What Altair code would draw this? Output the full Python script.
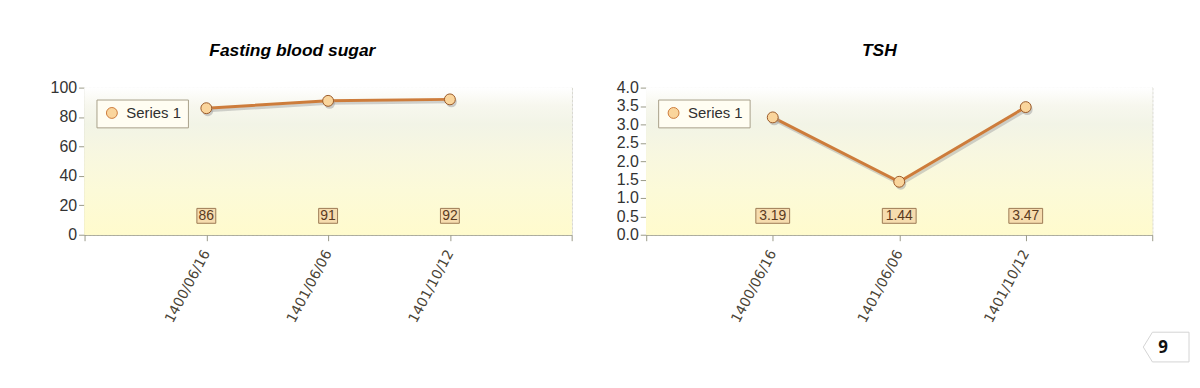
import altair as alt
import pandas as pd

dates = ["1400/06/16", "1401/06/06", "1401/10/12"]
sugar_values = [86, 91, 92]
tsh_values = [3.19, 1.44, 3.47]
series_name = "Series 1"
titles = ["Fasting blood sugar", "TSH"]
page_number = ["9"]

LINE = "#CD7C3B"
PT_FILL = "#FAD59C"
PT_STROKE = "#9A5A28"
BOX_FILL = "#F6DCAE"
BOX_STROKE = "#9C7A55"
FRAME = "#9A9A88"
GRID = "#D2D2C4"

label_expr = "[" + ",".join(["''"] + ["'%s'" % d for d in dates] + ["''"]) + "][datum.value]"


def panel(values, title, width, ymax, ystep, yfmt, box_w, title_dx, extra=None):
    df = pd.DataFrame({
        "idx": list(range(1, len(dates) + 1)),
        "date": dates,
        "value": values,
        "series": [series_name] * len(dates),
        "label": [("%g" % v) if yfmt == "d" else ("%.2f" % v) for v in values],
    })
    height = 148
    yticks = [round(i * ystep, 2) for i in range(int(round(ymax / ystep)) + 1)]
    base = alt.Chart(df)

    bg = base.mark_rect(
        color=alt.Gradient(
            gradient="linear",
            stops=[
                alt.GradientStop(color="#FFFFFF", offset=0),
                alt.GradientStop(color="#F7F7EE", offset=0.12),
                alt.GradientStop(color="#F2F4E6", offset=0.25),
                alt.GradientStop(color="#F8F7E0", offset=0.45),
                alt.GradientStop(color="#FCFAD8", offset=0.7),
                alt.GradientStop(color="#FFFBCD", offset=1),
            ],
            x1=0, x2=0, y1=0, y2=1,
        )
    ).encode(x=alt.value(0), x2=alt.value(width), y=alt.value(0), y2=alt.value(height))

    xs = alt.X("idx:Q", scale=alt.Scale(domain=[0, 4], nice=False, zero=False),
               axis=alt.Axis(values=[0, 1, 2, 3, 4], labelExpr=label_expr, title=None,
                             labelAngle=-62, labelFont="DejaVu Sans", labelFontSize=14,
                             labelColor="#4A4436", tickSize=6, tickColor=FRAME,
                             domainColor=FRAME, grid=True, gridColor=GRID, gridDash=[2, 2],
                             labelPadding=10, labelOverlap=False))
    ys = alt.Y("value:Q", scale=alt.Scale(domain=[0, ymax], nice=False),
               axis=alt.Axis(values=yticks, format=".0f" if yfmt == "d" else ".1f", title=None,
                             labelFont="Liberation Sans", labelFontSize=16, labelColor="#333333",
                             tickSize=6, tickColor=FRAME, domainColor=FRAME,
                             grid=True, gridColor=GRID, gridDash=[2, 2], labelPadding=2))

    shadow = base.mark_line(color="#9E9E9E", strokeWidth=3, opacity=0.45, xOffset=1.5, yOffset=2.5).encode(
        x=xs, y=ys)
    line = base.mark_line(strokeWidth=3).encode(
        x=xs, y=ys,
        color=alt.Color("series:N", scale=alt.Scale(range=[LINE]),
                        legend=alt.Legend(title=None, orient="top-left", offset=12,
                                          fillColor="#FFFDF2", strokeColor="#A8A08A",
                                          padding=6, symbolType="circle", symbolSize=120,
                                          symbolFillColor=PT_FILL, symbolStrokeColor=PT_STROKE,
                                          symbolStrokeWidth=1, symbolOffset=2,
                                          labelOffset=7, labelFont="Liberation Sans",
                                          labelFontSize=15, labelColor="#303030",
                                          labelLimit=200)))
    pts_shadow = base.mark_circle(size=120, color="#9E9E9E", opacity=0.5, xOffset=1.5, yOffset=2.5).encode(
        x=xs, y=ys)
    pts = base.mark_point(size=120, filled=True, fill=PT_FILL, stroke=PT_STROKE,
                          strokeWidth=1, opacity=1).encode(x=xs, y=ys)
    hy = 15.0 / box_w
    box_path = "M-1,-%.3fL1,-%.3fL1,%.3fL-1,%.3fZ" % (hy, hy, hy, hy)
    boxes = base.mark_point(shape=box_path, size=box_w * box_w, filled=True, fill=BOX_FILL,
                            stroke=BOX_STROKE, strokeWidth=1, opacity=1).encode(
        x=xs, y=alt.value(height - 19))
    texts = base.mark_text(font="Liberation Sans", fontSize=14, color="#5A3A1E").encode(
        x=xs, y=alt.value(height - 19), text="label:N")

    layers = [bg, shadow, line, pts_shadow, pts, boxes, texts]
    if extra is not None:
        layers += extra
    return alt.layer(*layers).properties(
        width=width, height=height,
        title=alt.TitleParams(title, font="Liberation Sans", fontSize=17.5, fontStyle="italic",
                              fontWeight="bold", color="#000000", anchor="middle",
                              dx=title_dx, offset=20),
    )


pn = alt.Chart(pd.DataFrame({"p": page_number}))
tab_path = "M-1,0L-0.6,-0.65L1,-0.65L1,0.65L-0.6,0.65Z"
page_tab = pn.mark_point(shape=tab_path, size=2116, filled=True, fill="#FFFFFF",
                         stroke="#D4D4D4", strokeWidth=1, opacity=1).encode(
    x=alt.value(523), y=alt.value(261))
page_text = pn.mark_text(font="Noto Sans", fontSize=17, fontWeight="bold", color="#111111").encode(
    x=alt.value(520), y=alt.value(262), text="p:N")

left = panel(sugar_values, titles[0], 490, 100, 20, "d", 19, -36)
right = panel(tsh_values, titles[1], 509, 4.0, 0.5, "f", 34, -20, extra=[page_tab, page_text])

chart = alt.hconcat(left, right, spacing=37).resolve_scale(color="independent").resolve_legend(
    color="independent").properties(padding={"left": 41, "top": 33, "right": 0, "bottom": 5}).configure_view(
    stroke=FRAME, strokeWidth=1).configure(background="#FFFFFF")

chart.save("out.html", embed_options={"renderer": "svg", "actions": False})
